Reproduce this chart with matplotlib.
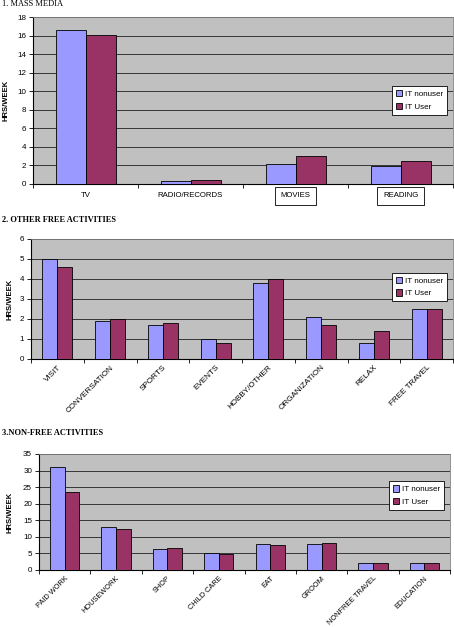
import numpy as np
import matplotlib.pyplot as plt

plt.rcParams['font.family'] = ['Liberation Sans', 'DejaVu Sans']

# data
media_cats = ['TV', 'RADIO/RECORDS', 'MOVIES', 'READING']
media_nonuser = [16.6, 0.3, 2.2, 1.9]
media_user = [16.1, 0.4, 3.0, 2.5]

free_cats = ['VISIT', 'CONVERSATION', 'SPORTS', 'EVENTS', 'HOBBY/OTHER',
             'ORGANIZATION', 'RELAX', 'FREE TRAVEL']
free_nonuser = [5.0, 1.9, 1.7, 1.0, 3.8, 2.1, 0.8, 2.5]
free_user = [4.6, 2.0, 1.8, 0.8, 4.0, 1.7, 1.4, 2.5]

nonfree_cats = ['PAID WORK', 'HOUSEWORK', 'SHOP', 'CHILD CARE', 'EAT', 'GROOM',
                'NONFREE TRAVEL', 'EDUCATION']
nonfree_nonuser = [31.0, 13.0, 6.2, 5.0, 7.7, 7.7, 2.2, 2.2]
nonfree_user = [23.5, 12.3, 6.5, 4.9, 7.4, 8.0, 2.0, 2.2]

c_non = '#9999FF'
c_user = '#993366'
W, H = 454, 627

fig = plt.figure(figsize=(W / 100, H / 100), dpi=100)


def px_axes(left, top, right, bottom):
    return fig.add_axes([left / W, 1 - bottom / H, (right - left) / W, (bottom - top) / H])


def draw(ax, cats, non, user, ymax, ystep, rotate, ylab_x, boxed=(), rot_size=5.9):
    n = len(cats)
    x = np.arange(n)
    w = 1 / 3.5
    ax.set_facecolor('#C0C0C0')
    ax.bar(x - w / 2, non, w, color=c_non, edgecolor='black', linewidth=0.6,
           label='IT nonuser', zorder=3)
    ax.bar(x + w / 2, user, w, color=c_user, edgecolor='black', linewidth=0.6,
           label='IT User', zorder=3)
    ax.set_xlim(-0.5, n - 0.5)
    ax.set_ylim(0, ymax)
    ax.set_yticks(np.arange(0, ymax + 0.01, ystep))
    ax.yaxis.grid(True, color='#202020', linewidth=0.6, zorder=1)
    ax.set_axisbelow(True)
    for s in ['top', 'right']:
        ax.spines[s].set_color('#808080')
        ax.spines[s].set_linewidth(0.6)
    ax.spines['left'].set_linewidth(0.8)
    ax.spines['bottom'].set_linewidth(0.8)
    ax.set_xticks(x)
    ax.set_xticks(np.arange(-0.5, n, 1), minor=True)
    ax.tick_params(axis='x', which='minor', length=3, width=0.6)
    ax.tick_params(axis='y', labelsize=5.8, length=3, width=0.6, pad=2)
    if rotate:
        ax.tick_params(axis='x', which='major', length=0, pad=3.5)
        ax.set_xticklabels(cats, rotation=45, ha='right', rotation_mode='anchor',
                           fontsize=rot_size)
    else:
        ax.tick_params(axis='x', which='major', length=0, labelsize=5.6, pad=6)
        ax.set_xticklabels(cats)
    for lab in ax.get_xticklabels():
        if lab.get_text() in boxed:
            lab.set_bbox(dict(facecolor='white', edgecolor='black', linewidth=0.6,
                              boxstyle='square,pad=0.7'))
    ax.set_ylabel('HRS/WEEK', fontsize=5.5, fontweight='bold')
    ax.yaxis.set_label_coords(ylab_x, 0.5)
    leg = ax.legend(loc='center right', bbox_to_anchor=(0.995, 0.5), fontsize=5.8,
                    frameon=True, fancybox=False, edgecolor='black', facecolor='white',
                    framealpha=1, handlelength=0.8, handleheight=0.8,
                    handletextpad=0.3, borderpad=0.5, labelspacing=0.6)
    leg.get_frame().set_linewidth(0.6)
    return ax


ax1 = px_axes(33, 17, 453, 184)
draw(ax1, media_cats, media_nonuser, media_user, 18, 2, False, (10 - 33) / 420,
     boxed=('MOVIES', 'READING'))

ax2 = px_axes(31, 239, 453, 359)
draw(ax2, free_cats, free_nonuser, free_user, 6, 1, True, (13 - 31) / 422)
ax2.get_legend().set_bbox_to_anchor((0.995, 0.6))

ax3 = px_axes(39, 454, 450, 570)
draw(ax3, nonfree_cats, nonfree_nonuser, nonfree_user, 35, 5, True, (14 - 39) / 411,
     rot_size=5.3)
ax3.get_legend().set_bbox_to_anchor((0.995, 0.64))

serif = ['Liberation Serif', 'DejaVu Serif']
fig.text(2 / W, 1 - 4 / H, '1. MASS MEDIA', fontsize=6, family=serif, va='center')
fig.text(2 / W, 1 - 220 / H, '2. OTHER FREE ACTIVITIES', fontsize=6, family=serif,
         fontweight='bold', va='center')
fig.text(2 / W, 1 - 433 / H, '3.NON-FREE ACTIVITIES', fontsize=6, family=serif,
         fontweight='bold', va='center')

fig.savefig('out.png', dpi=100)
